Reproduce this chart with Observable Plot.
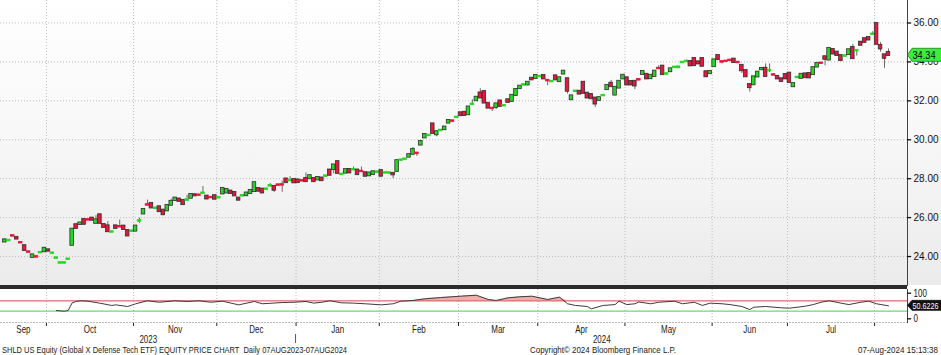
<!DOCTYPE html>
<html><head><meta charset="utf-8">
<script src="https://cdn.jsdelivr.net/npm/d3@7"></script>
<script src="https://cdn.jsdelivr.net/npm/@observablehq/plot@0.6"></script>
<style>
body{margin:0;background:#fff;}
#wrap{position:relative;width:941px;height:355px;overflow:hidden;font-family:"Liberation Sans",Arial,sans-serif;}
#wrap > *{position:absolute;left:0;}
</style></head><body><div id="wrap"></div>
<script>
// ---- data ----
const open = [24.75,24.81,25.07,24.98,24.72,24.55,24.24,23.96,23.99,24.19,24.25,24.34,24.16,23.91,23.66,23.66,23.85,24.58,25.63,25.65,
25.90,25.89,25.97,25.71,26.14,25.64,25.57,25.25,25.57,25.54,25.56,25.33,25.29,25.31,25.82,26.19,26.66,26.72,26.47,26.55,
26.38,26.35,26.64,26.88,26.95,26.88,26.89,27.00,27.17,27.16,27.24,27.10,27.04,27.12,27.01,27.22,27.27,27.36,27.29,27.00,
27.11,27.13,27.24,27.34,27.49,27.46,27.45,27.62,27.60,27.68,27.69,27.98,27.89,27.95,27.93,27.90,28.00,28.00,28.00,27.94,
28.03,28.12,28.44,28.47,28.87,28.21,28.29,28.47,28.45,28.44,28.38,28.30,28.15,28.22,28.33,28.41,28.29,28.28,28.27,28.37,
28.94,28.99,29.11,29.26,29.31,29.73,30.10,30.21,30.81,30.26,30.47,30.52,30.86,30.97,31.14,31.38,31.41,31.29,31.81,32.01,
32.40,32.47,31.87,31.62,31.66,31.99,31.74,32.05,31.97,32.28,32.63,32.81,32.82,33.16,33.15,33.24,33.30,33.05,32.98,33.28,
32.99,33.38,33.13,32.06,32.48,32.49,32.95,32.39,32.32,32.14,32.03,32.26,32.58,32.90,32.30,32.66,33.13,33.18,32.99,33.00,
33.09,33.36,33.36,33.14,33.26,33.67,33.78,33.37,33.50,33.71,33.70,33.96,34.01,34.02,34.17,34.00,34.17,33.49,33.40,33.76,
34.32,34.01,34.04,34.09,34.14,33.98,33.82,33.55,32.83,32.83,33.23,33.60,33.67,33.54,33.34,33.25,33.13,33.35,33.42,32.73,
33.19,33.16,33.38,33.40,33.35,33.74,33.94,34.26,34.10,34.63,34.50,34.33,34.29,34.38,34.74,34.57,35.01,35.19,35.25,35.41,
35.97,34.84,34.36,34.48];
const high = [24.90,24.86,25.09,25.00,24.74,24.58,24.26,24.10,24.01,24.23,24.45,24.36,24.20,23.95,23.70,23.70,23.89,25.42,25.66,25.75,
25.93,25.91,26.00,26.10,26.16,25.66,25.79,25.29,25.60,25.87,25.58,25.35,25.33,25.58,25.98,26.44,26.90,26.75,26.51,26.58,
26.40,26.65,26.95,27.03,26.97,26.90,27.15,27.20,27.19,27.18,27.60,27.12,27.06,27.14,27.05,27.52,27.47,27.38,27.31,27.02,
27.15,27.28,27.41,27.81,27.51,27.48,27.49,27.75,27.62,27.70,27.88,28.00,28.10,27.97,27.95,27.92,28.30,28.18,28.02,28.08,
28.05,28.16,28.46,28.72,28.89,28.25,28.48,28.49,28.60,28.46,28.60,28.32,28.31,28.37,28.37,28.43,28.33,28.32,28.29,28.94,
28.98,29.03,29.25,29.60,29.35,29.93,30.29,30.25,30.83,30.43,30.51,30.67,31.00,30.99,31.18,31.40,31.43,31.70,32.05,32.20,
32.62,32.49,31.89,31.64,31.86,32.01,31.78,32.07,32.30,32.60,32.77,32.85,32.97,33.18,33.32,33.28,33.32,33.07,33.02,33.30,
33.20,33.54,33.15,32.27,32.52,32.51,32.97,32.41,32.34,32.16,32.18,32.30,32.80,33.05,32.71,33.02,33.33,33.20,33.01,33.02,
33.11,33.52,33.38,33.33,33.54,33.80,33.80,33.41,33.66,33.75,33.76,34.00,34.10,34.04,34.19,34.02,34.19,33.51,33.52,34.12,
34.34,34.03,34.06,34.11,34.16,34.00,33.84,33.57,32.85,33.25,33.49,33.72,33.90,33.90,33.36,33.27,33.15,33.37,33.44,32.90,
33.23,33.38,33.40,33.42,33.72,33.93,33.96,34.28,34.71,34.65,34.52,34.35,34.33,34.64,34.90,34.61,35.03,35.21,35.27,35.55,
35.99,35.00,34.38,34.67];
const low = [24.72,24.79,25.03,24.88,24.68,24.30,24.20,23.94,23.95,24.17,24.23,24.26,24.14,23.89,23.64,23.64,23.83,24.56,25.43,25.62,
25.64,25.85,25.85,25.69,25.69,25.48,25.26,25.23,25.43,25.50,25.38,25.04,25.27,25.29,25.70,26.17,26.62,26.48,26.45,26.29,
26.13,26.33,26.62,26.86,26.82,26.65,26.87,26.98,27.10,27.12,27.22,26.94,27.00,26.93,26.99,27.20,27.25,27.22,27.10,26.88,
27.09,27.11,27.22,27.32,27.34,27.25,27.43,27.60,27.30,27.64,27.30,27.78,27.87,27.77,27.78,27.86,27.83,27.98,27.83,27.92,
27.88,28.10,28.16,28.25,28.25,28.19,28.27,28.28,28.43,28.19,28.34,28.11,28.13,28.20,28.31,28.11,28.27,28.26,28.00,28.35,
28.92,28.97,29.09,29.20,29.15,29.71,30.08,30.19,30.31,30.15,30.45,30.50,30.84,30.93,31.12,31.22,31.23,31.27,31.79,31.99,
32.13,31.87,31.61,31.45,31.55,31.70,31.72,31.90,31.95,32.26,32.61,32.79,32.80,33.06,33.13,33.22,33.11,32.78,32.96,33.06,
32.97,33.36,32.35,32.04,32.46,32.33,32.37,32.13,32.09,31.66,32.01,32.24,32.56,32.71,32.28,32.64,33.11,32.80,32.80,32.58,
33.05,33.34,33.11,33.12,33.24,33.63,33.33,33.35,33.48,33.69,33.68,33.94,33.99,33.78,33.79,33.88,33.76,33.22,33.38,33.74,
34.10,33.90,34.00,34.05,33.95,33.94,33.40,33.22,32.45,32.81,33.21,33.58,33.24,33.45,33.30,33.11,32.98,33.11,32.93,32.71,
33.17,33.14,33.17,33.16,33.33,33.72,33.90,33.80,34.08,34.39,34.31,34.05,34.27,34.36,34.15,34.30,34.84,34.99,35.11,35.39,
34.89,34.50,33.67,34.32];
const close = [24.85,24.83,25.05,24.90,24.70,24.32,24.22,24.08,23.97,24.21,24.42,24.28,24.18,23.93,23.68,23.68,23.87,25.40,25.45,25.72,
25.66,25.87,25.87,25.88,25.71,25.50,25.28,25.27,25.45,25.52,25.40,25.06,25.31,25.56,25.84,26.41,26.64,26.50,26.49,26.31,
26.15,26.62,26.83,27.00,26.84,26.67,26.91,27.18,27.12,27.14,27.26,26.96,27.02,26.95,27.03,27.49,27.44,27.24,27.12,26.90,
27.13,27.26,27.39,27.79,27.36,27.27,27.47,27.64,27.41,27.66,27.67,27.80,27.91,27.79,27.80,27.88,27.85,28.15,27.85,28.06,
27.90,28.14,28.18,28.70,28.27,28.23,28.46,28.30,28.47,28.21,28.36,28.13,28.29,28.35,28.35,28.13,28.31,28.30,28.20,28.92,
28.96,29.01,29.23,29.50,29.29,29.91,30.27,30.23,30.33,30.41,30.49,30.65,30.98,30.95,31.16,31.24,31.25,31.68,31.83,32.18,
32.15,31.89,31.63,31.60,31.84,31.72,31.76,31.92,32.28,32.58,32.75,32.83,32.95,33.08,33.30,33.26,33.13,33.03,33.00,33.08,
33.18,33.52,32.50,32.25,32.50,32.35,32.39,32.15,32.11,31.84,32.16,32.28,32.78,32.73,32.69,33.00,33.31,32.82,32.82,32.77,
33.07,33.50,33.13,33.31,33.52,33.65,33.35,33.39,33.64,33.73,33.74,33.98,34.03,33.80,33.81,33.90,33.78,33.24,33.50,34.10,
34.12,33.99,34.02,34.07,33.97,33.96,33.55,33.24,32.68,33.23,33.47,33.66,33.26,33.56,33.32,33.13,33.00,33.13,32.95,32.88,
33.21,33.36,33.19,33.18,33.70,33.91,33.92,34.14,34.69,34.41,34.33,34.07,34.31,34.62,34.17,34.59,34.86,35.01,35.13,35.43,
34.91,34.67,34.19,34.34];

// RSI(14) read at trading-day indexes
const rsiDay = [13,15,16,17,18,19,21,24,27,28,31,33,36,39,43,46,49,52,55,59,63,65,70,73,76,78,80,82,85,88,91,95,98,100,103,106,110,115,119,122,
124,127,130,133,137,140,142,144,147,148,151,154,155,157,159,160,163,165,169,171,174,176,178,181,183,186,188,189,192,196,198,202,204,206,208,211,213,216,218,220,223];
const rsiValue = [32.4,29.7,32.7,62.4,67.6,70.5,68.8,61.0,52.1,54.4,48.1,58.4,70.5,64.6,70.5,67.6,70.5,64.6,68.8,54.4,67.6,58.7,63.5,64.6,67.6,61.2,64.6,70.5,62.4,61.2,58.7,54.4,58.7,68.8,71.5,78.0,82.9,88.3,92.1,75.4,
71.5,81.8,85.9,88.3,75.4,84.5,58.7,52.1,48.1,38.9,52.1,55.5,68.8,55.5,58.7,65.8,58.7,64.6,68.8,58.7,64.6,52.1,61.2,58.7,55.5,48.1,36.1,45.2,48.1,42.9,41.4,49.2,55.5,64.6,70.5,61.2,55.5,64.6,68.8,58.7,50.6226];

const monthLabels = ["Sep","Oct","Nov","Dec","Jan","Feb","Mar","Apr","May","Jun","Jul"];
const monthBounds = [10.5,32.5,53.5,73.5,94.5,114.5,134.5,156.5,178.5,197.5,219.5]; // month boundaries (trading-day index)
const yearLabels = ["2023","2024"];
const priceTicks = [24,26,28,30,32,34,36];
const rsiTicks = [100,0];
const rsiLevels = {over:70, under:30};

// ---- derived ----
const candles = open.map((o,i)=>({i, o, h:high[i], l:low[i], c:close[i]}));
const rsi = rsiDay.map((d,k)=>({i:d, v:rsiValue[k]}));
const xDomain = [-1.085, 227.8];
const centers = monthBounds.map((b,k)=> k===0 ? (xDomain[0]+b)/2 : (monthBounds[k-1]+b)/2);
const yearCenters = [(xDomain[0]+monthBounds[3])/2, (monthBounds[3]+xDomain[1])/2];
const lastClose = close[close.length-1];
const lastRsi = rsiValue[rsiValue.length-1];

const GREEN = "#22d822", RED = "#e6163c";
const FONT = '"Liberation Sans",Arial,sans-serif';
const grid = {stroke:"#bdbdbd", strokeOpacity:1, strokeDasharray:"1,2", strokeWidth:1};
const tickEnd = xDomain[1] + 1.05; // right-axis tick marks, ~4px long

function tag(value, text, fill, stroke, color, h, fs, tw){
  return (index, scales, values, dims) => {
    const y = scales.y(value);
    const x0 = dims.width - dims.marginRight;
    const g = d3.create("svg:g");
    g.append("path")
      .attr("d", `M${x0+0.5},${y}L${x0+5},${y-h/2}H${dims.width+2}V${y+h/2}H${x0+5}Z`)
      .attr("fill", fill).attr("stroke", stroke).attr("stroke-width", 0.8);
    g.append("text").attr("x", x0+5.5).attr("y", y).attr("dy","0.36em")
      .attr("text-anchor","start").attr("textLength", tw).attr("lengthAdjust","spacingAndGlyphs")
      .attr("data-fixed","1")
      .attr("font-size", fs).attr("fill", color).attr("font-family", FONT).text(text);
    return g.node();
  };
}
// narrow the Bloomberg-style labels
function squeeze(svg, factor){
  d3.select(svg).selectAll("text").each(function(){
    if (this.getAttribute("data-fixed")) return;
    const n = this.getComputedTextLength();
    if (n > 0) { this.setAttribute("textLength", n*factor); this.setAttribute("lengthAdjust","spacingAndGlyphs"); }
  });
}

const wrap = document.getElementById("wrap");

// ---- main price panel ----
const main = Plot.plot({
  width: 941, height: 285,
  marginLeft: 0, marginRight: 34, marginTop: 0, marginBottom: 0,
  style: {background:"linear-gradient(#ffffff 0%, #f8f8f8 45%, #ebebeb 100%)", fontFamily: FONT, fontSize:"10px", color:"#111", overflow:"visible"},
  x: {domain: xDomain, axis: null},
  y: {domain: [22.511, 37.156], axis: null},
  marks: [
    Plot.ruleY(priceTicks, grid),
    Plot.ruleX(monthBounds, grid),
    Plot.ruleX(candles, {x:"i", y1:"l", y2:"h", stroke:"#6a6a6a", strokeWidth:1}),
    Plot.rect(candles, {
      x1: d=>d.i-0.45, x2: d=>d.i+0.45, y1:"o", y2:"c",
      insetTop: -0.6, insetBottom: -0.6,
      fill: d=> d.c>=d.o ? GREEN : RED,
      stroke: d=> Math.abs(d.c-d.o) < 0.05 ? (d.c>=d.o ? GREEN : RED) : "#2e2e2e",
      strokeWidth: 0.8
    }),
    Plot.frame({anchor:"right", stroke:"#444"}),
    Plot.ruleY(priceTicks, {x1: xDomain[1], x2: tickEnd, stroke:"#111", strokeWidth:1.3}),
    Plot.text(priceTicks, {y: d=>d, frameAnchor:"right", text: d=>d.toFixed(2), textAnchor:"start", dx: 6, fill:"#111", fontSize: 10}),
    tag(lastClose, lastClose.toFixed(2), "#3cee3c", "#1b7f1b", "#000", 13, 10.5, 23)
  ]
});
main.style.top = "0px";
wrap.appendChild(main);

// separator bar
const bar = document.createElement("div");
bar.style.cssText = "top:285px;width:907px;height:4px;background:#2b2b2b;";
wrap.appendChild(bar);

// ---- RSI panel ----
const rsiPlot = Plot.plot({
  width: 941, height: 66,
  marginLeft: 0, marginRight: 34, marginTop: 0, marginBottom: 33,
  style: {background:"transparent", fontFamily: FONT, fontSize:"10.5px", color:"#222", overflow:"visible"},
  x: {domain: xDomain, axis: "bottom", ticks: monthBounds, tickFormat: ()=>"", tickSize: 4, label: null},
  y: {domain: [-14.45, 114.45], axis: null},
  marks: [
    Plot.ruleX(monthBounds, grid),
    Plot.frame({anchor:"bottom", ...grid}),
    Plot.areaY(rsi, {x:"i", y1: rsiLevels.over, y2: d=>Math.max(d.v, rsiLevels.over), fill:"#ef8a8a", fillOpacity:0.7}),
    Plot.ruleY([rsiLevels.over], {stroke:"#d64545", strokeWidth:1}),
    Plot.ruleY([rsiLevels.under], {stroke:"#4ccf4c", strokeWidth:1}),
    Plot.line(rsi, {x:"i", y:"v", stroke:"#3c3c3c", strokeWidth:1}),
    Plot.frame({anchor:"right", stroke:"#444"}),
    Plot.ruleY(rsiTicks, {x1: xDomain[1], x2: tickEnd, stroke:"#111", strokeWidth:1.3}),
    Plot.text(rsiTicks, {y: d=>d, frameAnchor:"right", text: d=>String(d), textAnchor:"start", dx: 6, fill:"#111", fontSize: 10.5}),
    Plot.text(monthLabels, {x: (d,k)=>centers[k], frameAnchor:"bottom", text: d=>d, dy: 10, fill:"#222", fontSize: 10.5}),
    Plot.text(yearLabels, {x: (d,k)=>yearCenters[k], frameAnchor:"bottom", text: d=>d, dy: 20, fill:"#222", fontSize: 10.5}),
    (index, scales) => {
      const x = scales.x(monthBounds[3]);
      return d3.create("svg:line").attr("x1", x).attr("x2", x).attr("y1", 45).attr("y2", 54).attr("stroke", "#555").node();
    },
    tag(lastRsi, lastRsi.toFixed(4), "#111", "#111", "#fff", 10, 9.5, 26)
  ]
});
rsiPlot.style.top = "289px";
wrap.appendChild(rsiPlot);
squeeze(rsiPlot, 0.76);

// ---- footer caption ----
const cap = d3.create("svg").attr("width", 941).attr("height", 12)
  .style("position","absolute").style("top","343px").style("left","0px");
const capTexts = [
  {t:"SHLD US Equity (Global X Defense Tech ETF) EQUITY PRICE CHART  Daily 07AUG2023-07AUG2024", x:2, w:345},
  {t:"Copyright\u00A9 2024 Bloomberg Finance L.P.", x:530, w:146},
  {t:"07-Aug-2024 15:13:38", x:858, w:80}
];
cap.selectAll("text").data(capTexts).join("text")
  .attr("x", d=>d.x).attr("y", 10).attr("textLength", d=>d.w).attr("lengthAdjust","spacingAndGlyphs")
  .attr("font-family", FONT).attr("font-size", 9.5).attr("fill","#222").style("white-space","pre")
  .text(d=>d.t);
wrap.appendChild(cap.node());
</script></body></html>
